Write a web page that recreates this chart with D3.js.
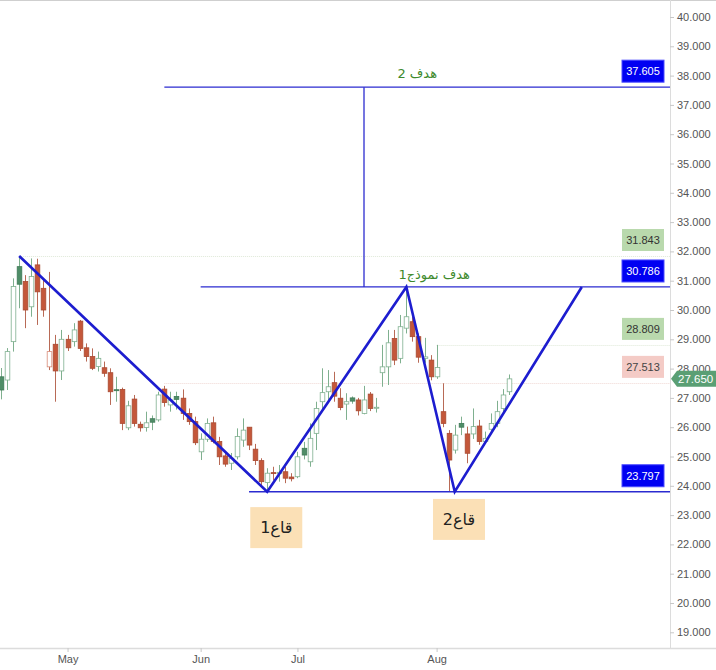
<!DOCTYPE html>
<html>
<head>
<meta charset="utf-8">
<script src="https://cdn.jsdelivr.net/npm/d3@7"></script>
<style>
  body { margin: 0; background: #fff; }
  svg { display: block; }
  text { font-family: "Liberation Sans", Arial, sans-serif; }
</style>
</head>
<body>
<div id="chart"></div>
<script>
// daily candles
var opens  = [27.72,27.61,28.92,31.48,30.97,30.11,31.54,30.74,28.06,28.83,
              27.92,29.00,28.92,29.62,28.71,28.41,28.07,28.03,27.86,27.28,
              27.29,25.98,26.96,26.10,25.99,26.29,26.25,27.30,26.76,27.05,
              26.99,26.47,26.19,25.16,25.59,26.15,25.51,25.02,24.77,24.99,
              25.56,26.00,25.25,24.86,24.11,24.45,24.42,24.48,24.30,24.31,
              25.28,24.82,25.79,26.87,27.21,27.52,26.99,26.79,27.00,26.93,
              26.47,27.13,26.66,27.86,28.06,29.03,28.35,29.38,29.60,29.09,
              28.35,28.29,27.72,26.53,25.79,25.22,26.13,25.77,25.77,26.04,
              25.51,25.93,26.13,26.64,27.21];
var highs  = [28.02,28.70,31.08,31.84,31.19,31.76,31.75,31.08,31.30,29.15,
              29.32,29.15,29.55,29.66,28.86,28.69,28.58,28.24,28.01,27.72,
              27.35,26.90,27.10,26.19,26.53,26.40,27.21,27.41,27.21,27.21,
              27.29,26.64,26.36,25.79,26.30,26.36,25.67,25.12,25.12,25.96,
              26.30,26.00,25.43,24.94,24.60,24.65,24.71,24.65,24.43,25.16,
              25.50,26.13,26.87,28.01,27.95,27.89,27.33,27.16,27.05,27.00,
              27.41,27.20,27.00,28.81,29.32,29.32,29.83,30.79,29.77,29.20,
              29.05,28.46,28.81,27.50,25.90,26.08,26.36,26.02,26.64,26.25,
              25.85,26.47,26.90,27.30,27.80];
var lows   = [26.95,27.27,28.58,30.06,29.38,29.77,29.49,29.77,27.95,26.87,
              27.61,28.60,28.75,28.60,28.24,27.95,27.90,27.72,26.76,26.87,
              25.90,25.90,26.02,25.85,25.85,25.90,26.19,26.70,26.53,26.60,
              26.25,26.08,25.39,24.88,25.50,25.45,24.71,24.65,24.54,24.90,
              25.33,25.22,24.71,23.97,23.80,24.18,24.14,24.09,24.15,24.26,
              24.90,24.65,25.22,26.53,26.93,26.87,26.58,26.25,26.80,26.40,
              26.44,26.55,26.50,27.38,27.44,28.12,28.18,29.20,28.92,28.20,
              28.20,27.60,27.65,26.00,23.80,25.10,25.73,24.77,25.60,25.40,
              25.45,25.85,26.00,26.50,27.10];
var closes = [27.27,28.58,30.80,30.88,30.00,31.14,30.62,30.00,28.58,27.92,
              29.00,28.71,29.32,28.69,28.41,28.01,28.35,27.84,27.21,27.26,
              26.13,26.73,26.13,25.98,26.15,26.17,27.10,26.84,26.93,26.95,
              26.47,26.19,25.47,25.59,26.13,25.51,24.99,24.74,24.94,25.68,
              25.90,25.39,24.86,24.14,24.43,24.42,24.46,24.26,24.24,24.99,
              25.05,25.62,26.64,27.18,27.38,27.06,26.67,26.87,26.89,26.56,
              26.93,26.64,26.68,28.06,28.88,28.29,29.43,29.77,29.09,28.39,
              28.40,27.72,28.04,26.13,24.88,25.73,26.00,25.11,26.02,25.51,
              25.62,26.13,26.53,27.10,27.65];

var monthLabels = ["May", "Jun", "Jul", "Aug"];
var monthBars   = [11, 33, 49, 72];
var priceTicks  = d3.range(19, 41);

// double-bottom drawing
var patternBars   = [3, 44, 67, 75, 96];
var patternPrices = [31.843, 23.797, 30.786, 23.797, 30.786];
var levelPrices   = [37.605, 30.786, 23.797];
var levelFrom     = [27, 33, 41];
var targetBar     = 60;
var faintPrices   = [31.843, 28.809, 27.513];
var faintFrom     = [3, 72, 27];
var boxPrices     = [37.605, 31.843, 30.786, 28.809, 27.513, 23.797];
var boxKinds      = ["level", "high", "level", "high", "low", "level"];
var lastPrice     = 27.650;
var goalTexts     = ["هدف 2", "هدف نموذج1"];
var goalBars      = [68.8, 71.6];
var goalPrices    = [38.09, 31.23];
var bottomTexts   = ["قاع1", "قاع2"];
var bottomBars    = [45.5, 75.7];
var bottomPrices  = [22.59, 22.87];

var W = 716, H = 670, plotRight = 670, plotBottom = 648;

var svg = d3.select("#chart").append("svg")
    .attr("width", W).attr("height", H);

var x = d3.scaleLinear().domain([0, 84]).range([1, 509.2]);
var y = d3.scaleLinear().domain([19, 40]).range([632.3, 17]);

var candles = opens.map(function(o, i){
    return { i: i, o: o, h: highs[i], l: lows[i], c: closes[i],
             up: i == 0 ? closes[i] < o : closes[i] >= closes[i-1] };
});

// frame
svg.append("line").attr("x1", 0).attr("x2", W).attr("y1", 0.5).attr("y2", 0.5)
    .attr("stroke", "#cfcfcf");
svg.append("line").attr("x1", plotRight + 0.5).attr("x2", plotRight + 0.5)
    .attr("y1", 0).attr("y2", plotBottom).attr("stroke", "#dcdcdc");
svg.append("line").attr("x1", 0).attr("x2", W)
    .attr("y1", plotBottom + 0.5).attr("y2", plotBottom + 0.5)
    .attr("stroke", "#dcdcdc").attr("stroke-width", 1.5);

// faint price lines
svg.append("g").selectAll("line").data(faintPrices).enter().append("line")
    .attr("x1", function(d, i){ return x(faintFrom[i]); })
    .attr("x2", plotRight)
    .attr("y1", function(d){ return Math.round(y(d)) + 0.5; })
    .attr("y2", function(d){ return Math.round(y(d)) + 0.5; })
    .attr("stroke", function(d, i){ return i == 2 ? "#f0d8d4" : "#dfe9d8"; })
    .attr("stroke-dasharray", "1,1");

// candles
var upLine = "#7fb08f", upFill = "#4f8d67", dnFill = "#c4573a", dnLine = "#a94a31";
var bw = 4.6;
var cg = svg.append("g");
cg.selectAll("line").data(candles).enter().append("line")
    .attr("x1", function(d){ return Math.round(x(d.i)) + 0.5; })
    .attr("x2", function(d){ return Math.round(x(d.i)) + 0.5; })
    .attr("y1", function(d){ return y(d.h); })
    .attr("y2", function(d){ return y(d.l); })
    .attr("stroke", function(d){ return d.up ? upLine : "#b86a56"; })
    .attr("stroke-width", 1);
cg.selectAll("rect").data(candles).enter().append("rect")
    .attr("x", function(d){ return Math.round(x(d.i)) + 0.5 - bw / 2; })
    .attr("width", bw)
    .attr("y", function(d){ return y(Math.max(d.o, d.c)); })
    .attr("height", function(d){ return Math.max(1, Math.abs(y(d.o) - y(d.c))); })
    .attr("fill", function(d){
        if (d.c > d.o) return "#fff";
        return d.up ? upFill : dnFill;
    })
    .attr("stroke", function(d){
        if (d.c > d.o) return d.up ? upLine : "#d98a77";
        return d.up ? "#3f7a57" : dnLine;
    })
    .attr("stroke-width", 0.8);

// horizontal target lines and vertical measure
var blue = "#2b2bd0";
svg.append("g").selectAll("line").data(levelPrices).enter().append("line")
    .attr("x1", function(d, i){ return x(levelFrom[i]); })
    .attr("x2", plotRight)
    .attr("y1", function(d){ return y(d); })
    .attr("y2", function(d){ return y(d); })
    .attr("stroke", blue).attr("stroke-width", 1.3);
svg.append("line")
    .attr("x1", x(targetBar)).attr("x2", x(targetBar))
    .attr("y1", y(levelPrices[0])).attr("y2", y(levelPrices[1]))
    .attr("stroke", blue).attr("stroke-width", 1.3);

// zigzag
var zig = d3.line()
    .x(function(d){ return x(d[0]); })
    .y(function(d){ return y(d[1]); });
svg.append("path")
    .datum(d3.zip(patternBars, patternPrices))
    .attr("d", zig)
    .attr("fill", "none")
    .attr("stroke", "#1d1dcf")
    .attr("stroke-width", 2.6)
    .attr("stroke-linejoin", "miter");

// green goal captions
svg.append("g").selectAll("text").data(goalTexts).enter().append("text")
    .attr("x", function(d, i){ return x(goalBars[i]); })
    .attr("y", function(d, i){ return y(goalPrices[i]); })
    .attr("dy", "0.35em")
    .attr("text-anchor", "middle")
    .attr("fill", "#3d8a2c")
    .style("font-family", "'DejaVu Sans', sans-serif")
    .style("font-size", "13px")
    .text(function(d){ return d; });

// bottom labels in peach boxes
var bl = svg.append("g").selectAll("g").data(bottomTexts).enter().append("g")
    .attr("transform", function(d, i){
        return "translate(" + x(bottomBars[i]) + "," + y(bottomPrices[i]) + ")";
    });
bl.append("rect").attr("x", -26).attr("y", -20).attr("width", 52).attr("height", 41)
    .attr("fill", "#fbe0b6");
bl.append("text").attr("text-anchor", "middle").attr("dy", "0.35em")
    .attr("fill", "#222")
    .style("font-family", "'DejaVu Sans', sans-serif")
    .style("font-size", "16px")
    .text(function(d){ return d; });

// price boxes on the right
var boxStyle = {
    level: { fill: "#0000f2", text: "#fff" },
    high:  { fill: "#b9d9ad", text: "#333" },
    low:   { fill: "#f4cbc6", text: "#444" }
};
var pb = svg.append("g").selectAll("g").data(boxPrices).enter().append("g")
    .attr("transform", function(d){ return "translate(643," + (y(d) - 16) + ")"; });
pb.append("rect").attr("x", -21).attr("y", -11).attr("width", 42).attr("height", 22)
    .attr("fill", function(d, i){ return boxStyle[boxKinds[i]].fill; })
    .attr("stroke", function(d, i){ return boxKinds[i] == "level" ? "#4a4aff" : "none"; });
pb.append("text").attr("text-anchor", "middle").attr("dy", "0.35em")
    .attr("fill", function(d, i){ return boxStyle[boxKinds[i]].text; })
    .style("font-size", "11px")
    .text(function(d){ return d3.format(".3f")(d); });

// right price axis
var ya = svg.append("g")
    .attr("transform", "translate(" + plotRight + ",0)")
    .call(d3.axisRight(y).tickValues(priceTicks).tickSize(4).tickPadding(3)
        .tickFormat(d3.format(".3f")));
ya.select(".domain").remove();
ya.selectAll("line").attr("stroke", "#c8c8c8");
ya.selectAll("text").attr("fill", "#555").style("font-size", "11px");

// last price tag
var ly = y(lastPrice);
svg.append("path")
    .attr("d", "M" + (plotRight + 1) + "," + ly + "L" + (plotRight + 7) + "," + (ly - 8) +
        "L" + W + "," + (ly - 8) + "L" + W + "," + (ly + 8) + "L" + (plotRight + 7) + "," + (ly + 8) + "Z")
    .attr("fill", "#5a9f74");
svg.append("text").attr("x", plotRight + 8).attr("y", ly).attr("dy", "0.35em")
    .attr("fill", "#fff").style("font-size", "11.5px")
    .text(d3.format(".3f")(lastPrice));

// time axis
var xa = svg.append("g")
    .attr("transform", "translate(0," + plotBottom + ")")
    .call(d3.axisBottom(x).tickValues(monthBars).tickSize(4).tickPadding(3)
        .tickFormat(function(d, i){ return monthLabels[i]; }));
xa.select(".domain").remove();
xa.selectAll("line").attr("stroke", "#c8c8c8");
xa.selectAll("text").attr("fill", "#555").style("font-size", "11px");
</script>
</body>
</html>
